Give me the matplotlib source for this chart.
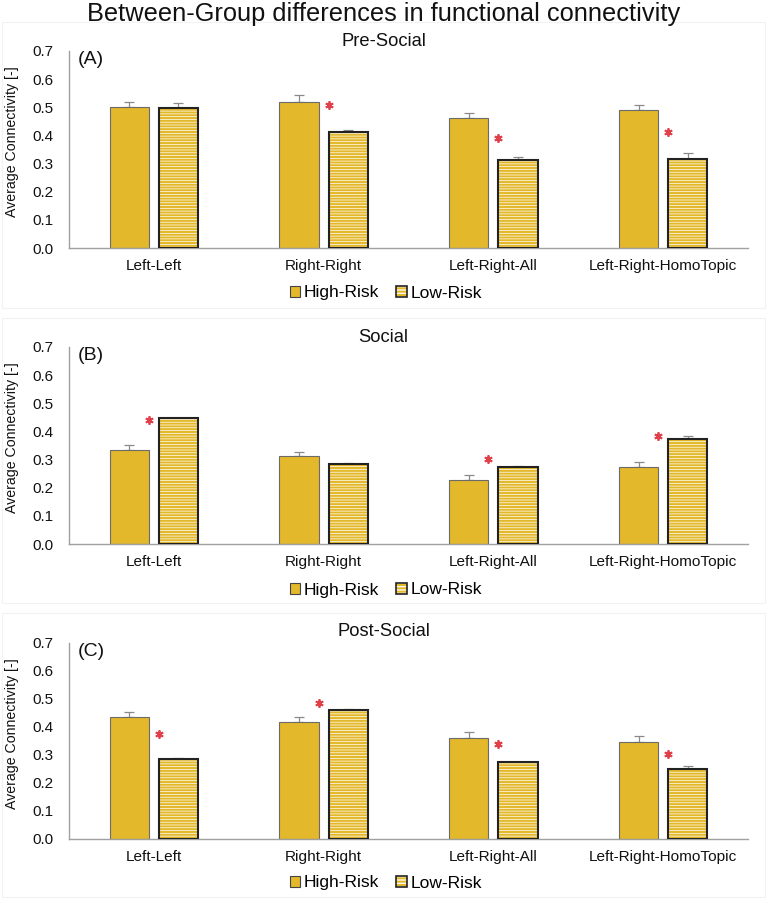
import numpy as np
import matplotlib
matplotlib.use("Agg")
import matplotlib.pyplot as plt
from matplotlib.patches import Patch, Rectangle
from matplotlib.legend_handler import HandlerTuple

plt.rcParams['font.family'] = ['Liberation Sans', 'DejaVu Sans']
plt.rcParams['hatch.linewidth'] = 1.5

categories = ["Left-Left", "Right-Right", "Left-Right-All", "Left-Right-HomoTopic"]
series_names = ["High-Risk", "Low-Risk"]
panel_titles = ["Pre-Social", "Social", "Post-Social"]
panel_tags = ["(A)", "(B)", "(C)"]

pre_high = [0.500, 0.518, 0.461, 0.490]
pre_high_err = [0.020, 0.027, 0.018, 0.019]
pre_low = [0.499, 0.411, 0.313, 0.316]
pre_low_err = [0.017, 0.008, 0.010, 0.021]
pre_star = [np.nan, 0.508, 0.390, 0.413]

soc_high = [0.333, 0.312, 0.227, 0.274]
soc_high_err = [0.019, 0.015, 0.018, 0.019]
soc_low = [0.446, 0.285, 0.275, 0.374]
soc_low_err = [0.003, 0.003, 0.002, 0.009]
soc_star = [0.440, np.nan, 0.301, 0.382]

post_high = [0.436, 0.417, 0.360, 0.345]
post_high_err = [0.018, 0.018, 0.022, 0.024]
post_low = [0.285, 0.459, 0.274, 0.251]
post_low_err = [0.004, 0.005, 0.002, 0.011]
post_star = [0.376, 0.487, 0.339, 0.304]

yticks = [0.0, 0.1, 0.2, 0.3, 0.4, 0.5, 0.6, 0.7]

panels = [
    (pre_high, pre_high_err, pre_low, pre_low_err, pre_star),
    (soc_high, soc_high_err, soc_low, soc_low_err, soc_star),
    (post_high, post_high_err, post_low, post_low_err, post_star),
]

GOLD = '#E3B82A'
W, H = 767, 900
fig = plt.figure(figsize=(W / 100, H / 100), dpi=100)

# panel geometry in pixels: (axes bottom, axes top, title y, legend y, frame top, frame bottom)
geo = [
    (248, 51, 41, 293, 22, 308),
    (544, 347, 337, 590, 318, 603),
    (839, 643, 632, 883, 613, 897),
]
ax_left, ax_right = 69, 748

fig.text(0.5, 1 - 14 / H, "Between-Group differences in functional connectivity",
         ha='center', va='center', fontsize=18.3, color='#111111')

x = np.arange(len(categories))
bw = 0.23
off = 0.145

for i, ((hi, hie, lo, loe, st), (yb, yt, ty, ly, ft, fb)) in enumerate(zip(panels, geo)):
    fig.patches.append(Rectangle((2 / W, 1 - fb / H), (W - 4) / W, (fb - ft) / H,
                                 transform=fig.transFigure, fill=False,
                                 edgecolor='#f2f2f2', lw=0.8))
    ax = fig.add_axes([ax_left / W, 1 - yb / H, (ax_right - ax_left) / W, (yb - yt) / H])
    hi = np.array(hi); lo = np.array(lo)
    hie = np.array(hie); loe = np.array(loe)
    ax.bar(x - off, hi, bw, color=GOLD, edgecolor='#6b6b6b', lw=0.8, zorder=2)
    ax.bar(x + off, lo, bw, color='white', edgecolor=GOLD, hatch='------', lw=0, zorder=2)
    ax.bar(x + off, lo, bw, fill=False, edgecolor='#222222', lw=1.5, zorder=3)
    ax.errorbar(x - off, hi, yerr=[np.zeros_like(hie), hie], fmt='none',
                ecolor='#8a8a8a', elinewidth=0.9, capsize=3.5, capthick=0.9, zorder=1)
    ax.errorbar(x + off, lo, yerr=[np.zeros_like(loe), loe], fmt='none',
                ecolor='#8a8a8a', elinewidth=0.9, capsize=3.5, capthick=0.9, zorder=1)
    st = np.array(st)
    sx = np.where(hi > lo, x + 0.03, x - 0.03)
    ax.plot(sx, st, ls='none', marker=(6, 2, 0), ms=6, mec='#e0404a', mew=1.3, zorder=4)

    ax.set_xlim(-0.5, len(categories) - 0.5)
    ax.set_ylim(0, 0.7)
    ax.set_yticks(yticks)
    ax.set_yticklabels([f"{v:.1f}" for v in yticks], fontsize=11)
    ax.set_xticks(x)
    ax.set_xticklabels(categories, fontsize=11.1)
    ax.tick_params(axis='y', length=0, pad=11, colors='#111111')
    ax.tick_params(axis='x', length=0, pad=8, colors='#111111')
    for s in ['top', 'right']:
        ax.spines[s].set_visible(False)
    ax.spines['left'].set_color('#a0a0a0')
    ax.spines['bottom'].set_color('#a0a0a0')
    ax.spines['left'].set_linewidth(1.0)
    ax.spines['bottom'].set_linewidth(1.0)
    ax.set_ylabel("Average Connectivity [-]", fontsize=10.2, color='#111111')
    ax.yaxis.set_label_coords(-0.073, 0.54)
    ax.text(0.013, 0.955, panel_tags[i], transform=ax.transAxes, ha='left', va='center',
            fontsize=14, color='#111111')

    fig.text(0.5, 1 - ty / H, panel_titles[i], ha='center', va='center',
             fontsize=13.2, color='#111111')

    h_high = Patch(facecolor=GOLD, edgecolor='#444444', lw=0.8)
    h_low = (Patch(facecolor='white', edgecolor=GOLD, hatch='-----', lw=0),
             Patch(fill=False, edgecolor='#222222', lw=1.2))
    fig.legend([h_high, h_low], series_names, loc='center',
               bbox_to_anchor=(0.503, 1 - ly / H), ncol=2, frameon=False,
               fontsize=12.5, handlelength=0.6, handleheight=0.6, handletextpad=0.2,
               columnspacing=1.0, handler_map={tuple: HandlerTuple(ndivide=1, pad=0)})

fig.savefig("out.png", dpi=100)
